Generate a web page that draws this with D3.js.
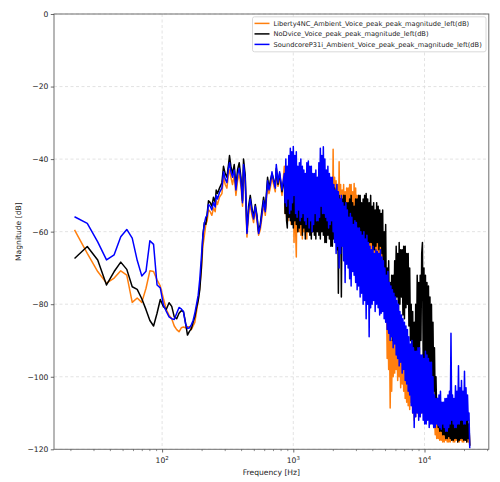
<!DOCTYPE html>
<html><head><meta charset="utf-8">
<script src="https://cdn.jsdelivr.net/npm/d3@7"></script>
<style>body{margin:0;background:#fff}svg{display:block}text{font-family:"DejaVu Sans",sans-serif}</style>
</head><body><svg id="c" width="500" height="482"></svg>
<script>
// ---- data ----
const freqHz = [
21.5,26.9,32.3,37.7,43.1,48.4,53.8,59.2,64.6,70.0,75.4,80.7,86.1,91.5,96.9,102.3,107.7,113.0,118.4,123.8,
129.2,134.6,140.0,145.3,150.7,156.1,161.5,166.9,172.3,177.6,183.0,188.4,193.8,199.2,204.6,210.0,215.3,
220.6,225.7,232.5,239.5,246.4,253.9,258.4,264.3,273.8,285.6,293.8,302.7,311.9,320.8,326.4,334.5,344.1,354.6,365.3,375.7,
387.1,398.9,410.2,417.5,430.2,443.2,456.0,469.8,484.1,497.9,513.0,528.4,543.5,560.0,577.0,593.5,611.5,636.6,652.5,667.5,
687.8,707.4,728.9,741.8,764.3,786.1,820.0,
854,865.3,877,888.5,900,912,924,936.5,949,961.5,974,987,1000,1013,1027,1040.5,1054,1068.5,1083,1097.5,
1112,1126.5,1141,1156.5,1172,1187.5,1203,1219,1235,1251.5,1268,1285,1302,1319.5,1337,1354.5,1372,1390.5,1409,1428,
1447,1466,1485,1505,1525,1545.5,1566,1586.5,1607,1628.5,1650,1672,1694,1717,1740,1763,1786,1810,1834,1858.5,
1883,1908,1933,1959,1985,2011.5,2038,2065,2092,2120,2148,2176.5,2205,2234.5,2264,2294,2324,2355.5,2387,2418.5,
2450,2483,2516,2549.5,2583,2617.5,2652,2687.5,2723,2759,2795,2832.5,2870,2908,2947,2986,3025,3065.5,3106,3147.5,
3189,3231.5,3274,3317.5,3361,3406,3451,3497,3543,3590.5,3638,3686.5,3735,3785,3835,3886,3937,3989.5,4042,4096,
4150,4205.5,4261,4318,4375,4433.5,4492,4552,4612,4673.5,4735,4798,4861,4926,4991,5057.5,5124,5192.5,5261,5331,
5401,5473.5,5546,5620,5694,5770,5846,5924,6002,6082,6162,6244.5,6327,6411,6495,6582,6669,6758,6847,6938.5,
7030,7123.5,7217,7313.5,7410,7509,7608,7709.5,7811,7915.5,8020,8127,8234,8344,8454,8566.5,8679,8795,8911,9030,
9149,9271,9393,9518.5,9644,9773,9902,10034,10166,10301.5,10437,10576.5,10716,10859,11002,11149,11296,11447,11598,11752.5,
11907,12066,12225,12388.5,12552,12719.5,12887,13059,13231,13407.5,13584,13765.5,13947,14133,14319,14510,14702,14898,15094,15295.5,
15497,15704,15911,16123.5,16336,16554,16772,16996,17220,17450,17680,17915,18152,18394,18636,18885,19134,19389.5,19645,19907,
20169,20438.5,20708,20984.5,21261,21544.5,21828,22118
];
const liberty4nc = [
-59.5,-66,-71,-74.2,-72.8,-70.8,-72,-79.5,-78.3,-79.5,-75.6,-70.8,-71,-73.3,-75,-78.4,-81.5,-83,-84,-86,
-87,-87.6,-86.5,-86.3,-86.5,-86.2,-86.2,-87,-86,-85,-82,-79,-75,-70.5,-64,-61,-58,
-57,-54,-54.5,-55.5,-53.5,-54.5,-51.5,-52.5,-50.5,-49.5,-45,-47,-48,-44,-43,-45,-47,-44.5,-50,-46,
-44,-47.5,-53,-43,-47,-61.5,-55.5,-52.5,-55.5,-57.5,-54,-57,-61,-59.5,-56,-52.5,-55.5,-47,-49.5,-48,
-45,-47,-49,-43,-47.5,-45,-50,
-42,-55,-45,-56, -44,-57,-43,-56, -45,-58,-46,-57, -47,-63,-45,-59, -67,-46,-60,-48,
-60,-46,-61,-47, -62,-47,-60,-46, -61,-46,-62,-48, -60,-47,-59,-46, -59,-48.5,-60,-47,
-59,-49,-58,-48, -58,-48,-60,-47, -59,-42,-58,-46, -58,-46,-60,-47, -60,-45,-59,-46,
-59,-47,-61,-48, -60,-37.3,-58,-45, -58,-46,-59,-47, -60,-40.7,-59,-47, -59,-48.5,-58,-47,
-58,-49,-59,-48, -57,-48,-60,-47, -62,-47,-61,-49, -61,-46.7,-62,-48, -62,-50,-64,-52,
-63,-55,-66,-54, -68,-56,-67,-57, -70,-57,-68,-58, -69,-60,-71,-61, -72,-63,-71,-62,
-73.5,-64,-72,-63, -73,-63,-72,-64, -72,-64,-73,-65, -74,-80,-78,-84, -75,-95,-82,-98,
-85,-108.6,-90,-104, -88,-100,-87,-99, -86,-98,-88,-101, -87,-100,-90,-103, -90,-102,-93,-104,
-95,-106,-96,-107, -96,-108,-97,-109, -97,-107,-98,-110, -98,-112,-97,-111, -97,-110,-96,-111,
-96,-111,-95,-110, -94,-110,-93,-111, -93,-111,-94,-110, -95,-110,-96,-112, -97,-112,-105,-114,
-110,-116,-111,-117, -112,-117,-113,-117.5, -113,-117.5,-112,-118, -112,-118,-113,-117.5, -113,-118,-112,-118,
-113,-118,-112.5,-117.5, -112.5,-118,-113,-118, -113,-117.5,-112,-118, -112,-118,-113,-117.5, -113,-118,-112,-118,
-112,-117.5,-113,-118, -113,-118,-114,-119
];
const noDvice = [
-67.4,-64.1,-67.8,-74.7,-71,-68.4,-70.4,-75.2,-75.9,-78.5,-81.5,-84.5,-86,-82.5,-78.7,-80.7,-81.4,-79.6,-80.6,-83.5,
-84,-82.5,-81.8,-82,-85,-88.5,-87.5,-86.8,-85,-83.5,-81,-79,-76,-70,-61,-57.5,-58,
-55,-51.5,-52,-53,-50.5,-52,-48.5,-49.5,-48,-46.5,-42,-44,-45,-41.5,-39,-42,-44,-41.5,-47.5,-43,
-41,-45,-51.5,-40,-44.5,-60,-53,-50,-53.5,-56,-52.5,-55.5,-60,-58,-54,-50.5,-54,-45,-48,-46,
-44,-45.5,-47.5,-42.5,-47,-44,-49,
-45,-55,-47,-57, -59,-47,-56,-45, -57,-46,-58,-48, -59,-47,-57,-46, -58,-48,-60,-46,
-59,-44,-58,-47, -61,-45,-59,-47, -62,-46,-60,-45, -60,-44.5,-61,-46, -62,-47,-60,-45,
-61,-46,-62,-48, -60,-47,-61,-45, -62,-46,-60,-47, -61,-48,-63,-46, -63,-47,-61,-49,
-62,-48,-64,-47, -64,-49,-62,-48, -63,-50,-65,-49, -77,-50,-64,-51, -78,-51,-63,-50,
-64,-50,-65,-52, -63,-52,-64,-51, -64,-50,-63,-52, -63,-53,-65,-51, -64,-51,-63,-50,
-65,-50,-64,-52, -64,-51,-66,-50, -65,-49.5,-64,-51, -64,-52,-63,-50, -63,-53,-65,-52,
-65,-54,-64,-52, -63,-53,-65,-54, -64,-55,-66,-54, -75,-60,-72,-58, -82,-70,-85,-68,
-88,-74,-86,-72, -90,-72,-84,-68, -80,-64,-78,-66, -82,-63,-80,-65, -78,-65,-83,-64,
-84,-64,-81,-66, -80,-66,-86,-70, -90,-80,-98,-82, -104.5,-85,-102,-80, -100,-72,-96,-74,
-95,-72,-90,-66, -63,-96,-70,-98, -72,-100,-74,-97, -75,-98,-78,-100, -80,-102,-85,-104,
-92,-108,-100,-110, -106,-114,-108,-115, -108,-115,-109,-116, -109,-116,-110,-117, -110,-117,-109,-116.5,
-110,-117,-111,-117.5, -111,-117.5,-110,-117, -110,-117,-111,-118, -111,-117.5,-110,-117, -110,-117,-111,-117.5,
-110.5,-117.5,-111,-118, -111,-117,-113,-119
];
const soundcoreP31i = [
-55.9,-57.7,-62.8,-67.8,-66.4,-61.4,-59.4,-61.8,-67.9,-72.2,-70.9,-62.5,-63.5,-74.7,-75.5,-80.2,-82,-83.5,-84,-84.2,
-82.5,-80.9,-81.3,-82,-85.3,-86.7,-86.5,-85.7,-84.5,-82.5,-80,-77.5,-73,-67,-61,-57.7,-56,
-55.5,-52.5,-53,-54,-52,-53.2,-50,-51,-49.2,-48,-43.5,-45.5,-46.5,-42.5,-41,-43.5,-45,-43,-48.5,-44.5,
-42.5,-46,-52,-41.5,-45.5,-60.5,-54,-51,-54.5,-56.5,-53,-56,-60.5,-58.5,-55,-51.5,-54.5,-46,-48.5,-47,
-43.5,-46,-48,-41.5,-46.5,-43.5,-48.5,
-44,-52,-40,-53, -42,-51,-39,-55, -37,-54,-38,-52, -36.5,-50,-39,-55, -38,-56,-42,-54,
-41,-57,-40,-56, -42,-55,-43,-57, -44,-58,-41,-56, -40.5,-59,-42,-57, -42,-60,-44,-58,
-44,-55,-43,-57, -45,-57,-41,-56, -37,-53,-39,-55, -36.6,-55,-40,-56, -43,-57,-42,-59,
-44,-58,-45,-57, -45,-60,-47,-63, -48.5,-66,-47,-64, -49,-70,-51,-66, -50,-64,-52,-68,
-53,-74,-52,-69, -54,-70,-56,-73, -55,-75,-56,-71, -58,-72,-57,-74, -57.5,-76,-59,-75,
-59,-78,-60,-77, -61,-80,-60,-79, -62,-84,-61,-80, -63,-89,-64,-81, -65,-80,-64,-79,
-66,-82,-65,-80, -65.5,-81,-66,-83, -65,-82.5,-67,-82, -68,-84,-70,-85, -72,-87,-71,-88,
-74,-90,-75,-89, -76,-92,-77,-91, -78,-94,-79,-95, -80,-97,-82,-96, -83,-99,-84,-98,
-85,-101,-86,-102, -87,-104,-89,-105, -91,-108,-90,-110, -92,-114,-93,-111, -93,-110,-92,-112,
-92,-111,-94,-110, -94,-112,-95,-113, -93,-113,-94,-112, -95,-114,-96,-113, -96,-113,-100,-114,
-105,-114,-106,-113, -106,-113.5,-105,-114, -104,-114.5,-107,-113, -107,-114,-106,-115, -106,-115,-105,-114,
-104,-113,-88,-112, -105,-113,-106,-114, -102.5,-114,-104,-113, -97,-113,-103,-112, -101,-112,-104,-113,
-98.5,-113,-103,-112, -105,-112,-110,-119.7
];
const seriesNames = [
  "Liberty4NC_Ambient_Voice_peak_peak_magnitude_left(dB)",
  "NoDvice_Voice_peak_peak_magnitude_left(dB)",
  "SoundcoreP31i_Ambient_Voice_peak_peak_magnitude_left(dB)"
];
const seriesColors = ["#ff7f0e", "#000000", "#0000ff"];
const yTickValues = [0, -20, -40, -60, -80, -100, -120];
const xMajorTicks = [100, 1000, 10000];
const xMajorExponents = ["2", "3", "4"];
const xLabel = "Frequency [Hz]";
const yLabel = "Magnitude [dB]";

// ---- drawing ----
const L = 54, R = 488.8, T = 14, B = 449.3;
const svg = d3.select("#c");
const x = d3.scaleLog().domain([15.0, 30900]).range([L, R]);
const y = d3.scaleLinear().domain([-120, 0]).range([B, T]);

// grid
const grid = svg.append("g");
grid.selectAll("line.gx").data(xMajorTicks).enter().append("line")
  .attr("x1", d => x(d)).attr("x2", d => x(d)).attr("y1", T).attr("y2", B)
  .attr("stroke", "#dcdcdc").attr("stroke-width", 0.8).attr("stroke-dasharray", "3,2.5");
grid.selectAll("line.gy").data(yTickValues).enter().append("line")
  .attr("x1", L).attr("x2", R).attr("y1", d => y(d)).attr("y2", d => y(d))
  .attr("stroke", "#dcdcdc").attr("stroke-width", 0.8).attr("stroke-dasharray", "3,2.5");

// clip
svg.append("defs").append("clipPath").attr("id", "clip")
  .append("rect").attr("x", L).attr("y", T).attr("width", R - L).attr("height", B - T);

const all = [liberty4nc, noDvice, soundcoreP31i];
const line = d3.line().x(d => x(d[0])).y(d => y(d[1]));
const plot = svg.append("g").attr("clip-path", "url(#clip)");
all.forEach((vals, k) => {
  const n = Math.min(freqHz.length, vals.length);
  const pts = [];
  for (let i = 0; i < n; i++) pts.push([freqHz[i], vals[i]]);
  plot.append("path").attr("d", line(pts)).attr("fill", "none")
    .attr("stroke", seriesColors[k]).attr("stroke-width", 1.5)
    .attr("stroke-linejoin", "round");
});

// spines
svg.append("rect").attr("x", L).attr("y", T).attr("width", R - L).attr("height", B - T)
  .attr("fill", "none").attr("stroke", "#6e6e6e").attr("stroke-width", 1);

// y axis
const yAx = svg.append("g").attr("transform", `translate(${L},0)`)
  .call(d3.axisLeft(y).tickValues(yTickValues).tickSize(3.2).tickPadding(2.5)
    .tickFormat(d => d < 0 ? "\u2212" + Math.abs(d) : String(d)));
yAx.select(".domain").remove();
yAx.selectAll("line").attr("stroke", "#444").attr("stroke-width", 0.8);
yAx.selectAll("text").attr("font-size", 7.6).attr("fill", "#222").attr("font-family", '"DejaVu Sans"');

// x axis
const minor = [];
[10, 100, 1000, 10000].forEach(dec => { for (let m = 2; m <= 9; m++) { const v = dec * m; if (v >= 15 && v <= 30900) minor.push(v); } });
const xAxMinor = svg.append("g").attr("transform", `translate(0,${B})`)
  .call(d3.axisBottom(x).tickValues(minor).tickSize(1.8).tickFormat(""));
xAxMinor.select(".domain").remove();
xAxMinor.selectAll("line").attr("stroke", "#444").attr("stroke-width", 0.6);
const xAx = svg.append("g").attr("transform", `translate(0,${B})`)
  .call(d3.axisBottom(x).tickValues(xMajorTicks).tickSize(3.2).tickFormat(""));
xAx.select(".domain").remove();
xAx.selectAll("line").attr("stroke", "#444").attr("stroke-width", 0.8);
xMajorTicks.forEach((v, i) => {
  const t = svg.append("text").attr("x", x(v)).attr("y", B + 14).attr("text-anchor", "middle")
    .attr("font-size", 7.6).attr("fill", "#222");
  t.append("tspan").text("10");
  t.append("tspan").attr("dy", -3).attr("font-size", 5.4).text(xMajorExponents[i]);
});

// labels
svg.append("text").attr("x", (L + R) / 2).attr("y", B + 26).attr("text-anchor", "middle")
  .attr("font-size", 7.6).attr("fill", "#222").text(xLabel);
svg.append("text").attr("transform", `translate(20.5,${(T + B) / 2}) rotate(-90)`)
  .attr("text-anchor", "middle").attr("font-size", 7.6).attr("fill", "#222").text(yLabel);

// legend
const lg = svg.append("g");
lg.append("rect").attr("x", 252.5).attr("y", 16.8).attr("width", 233.5).attr("height", 35)
  .attr("rx", 2).attr("fill", "#fff").attr("fill-opacity", 0.8).attr("stroke", "#d0d0d0").attr("stroke-width", 0.8);
seriesNames.forEach((n, i) => {
  const cy = 23.4 + i * 10.5;
  lg.append("line").attr("x1", 254.5).attr("x2", 269.5).attr("y1", cy).attr("y2", cy)
    .attr("stroke", seriesColors[i]).attr("stroke-width", 1.5);
  lg.append("text").attr("x", 273.5).attr("y", cy + 2.4).attr("font-size", 6.65).attr("fill", "#222").text(n);
});
</script></body></html>
